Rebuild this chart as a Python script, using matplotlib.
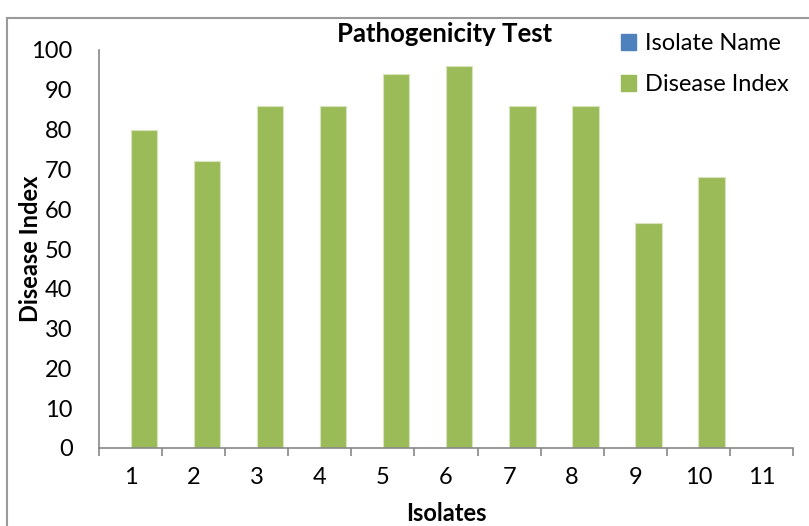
import matplotlib
matplotlib.use("Agg")
import matplotlib.pyplot as plt
import matplotlib.patches as mpatches
import numpy as np

# data
isolates = ['1', '2', '3', '4', '5', '6', '7', '8', '9', '10', '11']
isolate_name = [0, 0, 0, 0, 0, 0, 0, 0, 0, 0, 0]
disease_index = [80, 72, 86, 86, 94, 96, 86, 86, 56.5, 68, 0]

plt.rcParams['font.family'] = ['Lato', 'DejaVu Sans']
fs = 17

fig = plt.figure(figsize=(8.09, 5.26), dpi=100)
ax = fig.add_axes([99 / 809, 78 / 526, 694 / 809, 398 / 526])

x = np.arange(len(isolates))
w = 0.42
ax.bar(x - w / 2, isolate_name, w, color='#4F81BD', label='Isolate Name')
ax.bar(x + w / 2, disease_index, w, color='#9BBB59', edgecolor='#D7E4BD',
       linewidth=0.8, label='Disease Index')

ax.set_xlim(-0.5, len(isolates) - 0.5)
ax.set_ylim(0, 100)
ax.set_yticks(range(0, 101, 10))
ax.tick_params(axis='y', length=0, labelsize=fs, pad=19)

# category boundary ticks on x axis
ax.set_xticks(np.arange(-0.5, len(isolates), 1.0))
ax.set_xticklabels([])
ax.set_xticks(x, minor=True)
ax.set_xticklabels(isolates, minor=True)
ax.tick_params(axis='x', which='major', length=6, color='#888888', width=1.2)
ax.tick_params(axis='x', which='minor', length=0, labelsize=fs, pad=14)

for s in ['top', 'right']:
    ax.spines[s].set_visible(False)
for s in ['left', 'bottom']:
    ax.spines[s].set_color('#888888')
    ax.spines[s].set_linewidth(1.2)

ax.set_xlabel('Isolates', fontsize=fs, fontweight='bold', labelpad=10)
ax.set_ylabel('Disease Index', fontsize=fs, fontweight='bold')
ax.yaxis.set_label_coords((42 - 99) / 694, 0.5)

fig.text(445 / 809, 1 - 34 / 526, 'Pathogenicity Test', fontsize=18.5,
         fontweight='bold', ha='center', va='center')

handles = [mpatches.Patch(color='#4F81BD'), mpatches.Patch(color='#9BBB59')]
fig.legend(handles, ['Isolate Name', 'Disease Index'], loc='upper left',
           bbox_to_anchor=(621 / 809, 1 - 33 / 526), frameon=False,
           fontsize=fs, handlelength=0.65, handleheight=0.65,
           handletextpad=0.35, labelspacing=0.85, borderaxespad=0,
           borderpad=0)

# outer chart border
fig.patches.append(mpatches.Rectangle((7 / 809, -0.1), 2, 1.1 - 18 / 526,
                                      transform=fig.transFigure, fill=False,
                                      edgecolor='#9A9A9A', linewidth=1.5))

plt.savefig('out.png', dpi=100)
